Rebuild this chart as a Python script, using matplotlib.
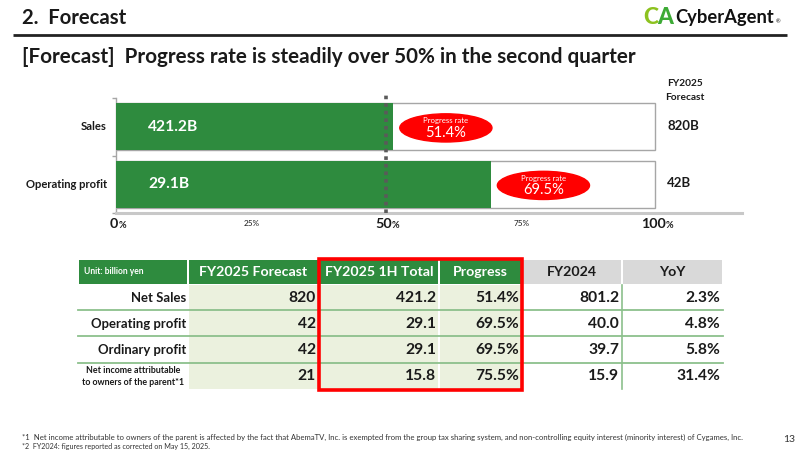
import matplotlib
matplotlib.use("Agg")
import matplotlib.pyplot as plt
from matplotlib.patches import Rectangle, Ellipse

# ---------------- data ----------------
bar_categories = ["Sales", "Operating profit"]
bar_h1_values = [421.2, 29.1]          # billion yen, FY2025 1H
bar_forecast = [820, 42]               # billion yen, FY2025 forecast
bar_progress = [51.4, 69.5]            # %
x_ticks = [0, 25, 50, 75, 100]

table_header = ["Unit: billion yen", "FY2025 Forecast", "FY2025 1H Total", "Progress", "FY2024", "YoY"]
row_labels = ["Net Sales", "Operating profit", "Ordinary profit",
              "Net income attributable\nto owners of the parent*1"]
col_forecast = ["820", "42", "42", "21"]
col_h1 = ["421.2", "29.1", "29.1", "15.8"]
col_progress = ["51.4%", "69.5%", "69.5%", "75.5%"]
col_fy2024 = ["801.2", "40.0", "39.7", "15.9"]
col_yoy = ["2.3%", "4.8%", "5.8%", "31.4%"]

# ---------------- style ----------------
W, H = 800, 450
GREEN = "#2E8B3E"
LIGHT = "#EBF1DE"
GRAY_HDR = "#D9D9D9"
LINE_G = "#8CC08C"
RED = "#FF0000"
TXT = "#1A1A1A"

plt.rcParams["font.family"] = ["Lato", "DejaVu Sans"]
fig = plt.figure(figsize=(8, 4.5), dpi=100)
renderer = fig.canvas.get_renderer()

# ---------------- bar chart axes ----------------
ax = fig.add_axes([116 / W, 1 - 213 / H, (742 - 116) / W, (213 - 98) / H])
ax.set_zorder(1)

# overlay (pixel coordinates) for texts and table
ov = fig.add_axes([0, 0, 1, 1])
ov.set_zorder(5)
ov.set_xlim(0, W)
ov.set_ylim(H, 0)
ov.axis("off")


def txt(x, y, s, target=None, size=10, **kw):
    kw.setdefault("va", "center")
    kw.setdefault("color", TXT)
    t = ov.text(x, y, s, fontsize=size, **kw)
    if target:
        w = t.get_window_extent(renderer).width
        t.set_fontsize(size * target / w)
    return t


def fit_size(s, target, weight="bold", size=10):
    t = ov.text(0, 0, s, fontsize=size, fontweight=weight)
    w = t.get_window_extent(renderer).width
    t.remove()
    return size * target / w


# ---------------- header ----------------
txt(22, 18, "2.  Forecast", target=105, size=14, fontweight="bold")
ov.plot([13, 787], [35, 35], color="#222222", lw=2, solid_capstyle="butt")
txt(22, 57, "[Forecast]  Progress rate is steadily over 50% in the second quarter",
    target=614, size=13, fontweight="bold")

# logo
txt(643, 18, "C", target=15, size=14, fontweight="black", color="#8DC21F")
txt(657, 18, "A", target=16, size=14, fontweight="black", color="#3DAA35")
txt(675, 18, "CyberAgent", target=99, size=14, fontweight="bold", color="#111111")
txt(776, 22, "®", size=4, color="#111111")

# ---------------- bar chart ----------------
ax.patch.set_alpha(0)
xmax = 100 * (742 - 116) / (655 - 116)
ax.set_xlim(0, xmax)
ax.set_ylim(-0.5, 1.5)
ypos = [1, 0]
bh = 0.82
ax.barh(ypos, [100, 100], height=bh, color="white", edgecolor="#A6A6A6", lw=1, zorder=2)
ax.barh(ypos, bar_progress, height=bh, color=GREEN, edgecolor="none", zorder=3)

for s in ["top", "right"]:
    ax.spines[s].set_visible(False)
ax.spines["left"].set_color("#A6A6A6")
ax.spines["left"].set_linewidth(1)
ax.spines["bottom"].set_color("#C8C8C8")
ax.spines["bottom"].set_linewidth(2.2)
ax.set_yticks(ypos)
ax.set_yticklabels([])
ax.tick_params(axis="y", which="major", length=0)
ax.set_yticks([-0.5, 0.5, 1.5], minor=True)
ax.tick_params(axis="y", which="minor", length=3, color="#A6A6A6", width=1)
ax.set_xticks([])

ax.plot([50, 50], [-0.5, 1.59], color="#5A5A5A", lw=2.6,
        linestyle=(0, (1, 1.1)), clip_on=False, zorder=6)


def to_px(x, y):
    dx, dy = ax.transData.transform((x, y))
    return dx, H - dy


cat_size = fit_size("Operating profit", 82)
val_size = fit_size("421.2B", 50)
fc_size = fit_size("820B", 32)
pr_small = fit_size("Progress rate", 45, weight="normal")
pr_big = fit_size("51.4%", 41, weight="normal")

for yc, cat, v, fc, p in zip(ypos, bar_categories, bar_h1_values, bar_forecast, bar_progress):
    _, ypx = to_px(0, yc)
    txt(107, ypx, cat, size=cat_size, fontweight="bold", ha="right")
    txt(148, ypx, f"{v}B", size=val_size, fontweight="bold", color="white")
    txt(667, ypx - 1, f"{fc}B", size=fc_size, fontweight="bold")
    e = Ellipse((p + 9.8, yc - 0.02), width=17.1, height=0.49, color=RED,
                zorder=8, clip_on=False)
    ax.add_patch(e)
    cx, cy = to_px(p + 9.8, yc - 0.02)
    txt(cx, cy - 7, "Progress rate", size=pr_small, color="white", ha="center")
    txt(cx, cy + 5, f"{p}%", size=pr_big, color="white", ha="center")

txt(685, 84, "FY2025", target=36, size=8, fontweight="bold", ha="center")
txt(685, 97, "Forecast", target=39, size=8, fontweight="bold", ha="center")

# x tick labels
big_digit = fit_size("100", 25)
small_tick = fit_size("25%", 16, weight="normal")
for v in x_ticks:
    xp, _ = to_px(v, -0.5)
    if v % 50 == 0:
        d = ov.text(0, 0, str(v), fontsize=big_digit, fontweight="bold")
        pc = ov.text(0, 0, "%", fontsize=big_digit * 0.65, fontweight="bold")
        wd = d.get_window_extent(renderer).width
        wp = pc.get_window_extent(renderer).width
        d.remove(); pc.remove()
        split = xp + (wd - wp) / 2 + 2
        txt(split, 228, str(v), size=big_digit, fontweight="bold", ha="right", va="baseline")
        txt(split, 228, "%", size=big_digit * 0.65, fontweight="bold", ha="left", va="baseline")
    else:
        txt(xp + 1, 223, f"{v}%", size=small_tick, ha="center")

# ---------------- table ----------------
col_edges = [78, 188, 319, 439, 522, 622, 723]
row_edges = [260, 284, 310, 336, 363, 389]

# header cells
for i in range(6):
    x0, x1 = col_edges[i], col_edges[i + 1]
    fc = GREEN if i < 4 else GRAY_HDR
    ov.add_patch(Rectangle((x0 + 0.8, row_edges[0]), x1 - x0 - 1.6,
                           row_edges[1] - row_edges[0], color=fc, lw=0))

# body fills
for i in (1, 2, 3):
    x0, x1 = col_edges[i], col_edges[i + 1]
    ov.add_patch(Rectangle((x0 + 0.8, row_edges[1] + 1), x1 - x0 - 1.6,
                           row_edges[-1] - row_edges[1] - 1, color=LIGHT, lw=0))

for yl in row_edges[2:-1]:
    ov.plot([col_edges[0], col_edges[-1]], [yl, yl], color=LINE_G, lw=1.3, zorder=3)
ov.plot([col_edges[5], col_edges[5]], [row_edges[1] + 1, row_edges[-1]], color=LINE_G, lw=1.2, zorder=3)

# red highlight box
ov.add_patch(Rectangle((col_edges[2], row_edges[0] - 1), col_edges[4] - col_edges[2],
                       row_edges[-1] - row_edges[0] + 1.5, fill=False, edgecolor=RED,
                       lw=2.6, zorder=6))

# header text
hdr_size = fit_size("FY2025 Forecast", 108)
txt(84, 272, table_header[0], target=60, size=6, fontweight="bold", color="white")
for i in range(1, 6):
    cx = (col_edges[i] + col_edges[i + 1]) / 2
    txt(cx, 272, table_header[i], size=hdr_size, fontweight="bold", ha="center",
        color="white" if i < 4 else TXT)

# body text
num_size = fit_size("801.2", 40)
lab_size = fit_size("Operating profit", 95)
small_lab = fit_size("to owners of the parent*1", 103)
cols = [col_forecast, col_h1, col_progress, col_fy2024, col_yoy]
for r in range(4):
    cy = (row_edges[r + 1] + row_edges[r + 2]) / 2 + 0.5
    if "\n" in row_labels[r]:
        txt(133, cy, row_labels[r], size=small_lab, fontweight="bold", ha="center",
            linespacing=1.3)
    else:
        txt(186, cy, row_labels[r], size=lab_size, fontweight="bold", ha="right")
    for c, col in enumerate(cols):
        txt(col_edges[c + 2] - 3, cy, col[r], size=num_size, fontweight="bold", ha="right", zorder=5)

# ---------------- footnotes ----------------
txt(22, 437, "*1  Net income attributable to owners of the parent is affected by the fact that AbemaTV, Inc. "
    "is exempted from the group tax sharing system, and non-controlling equity interest (minority interest) "
    "of Cygames, Inc.", target=723, size=6, color="#333333")
txt(22, 446, "*2  FY2024: figures reported as corrected on May 15, 2025.", target=190, size=6, color="#333333")
txt(795, 439, "13", target=12, size=8, color="#333333", ha="right")

fig.savefig("out.png", dpi=100)
